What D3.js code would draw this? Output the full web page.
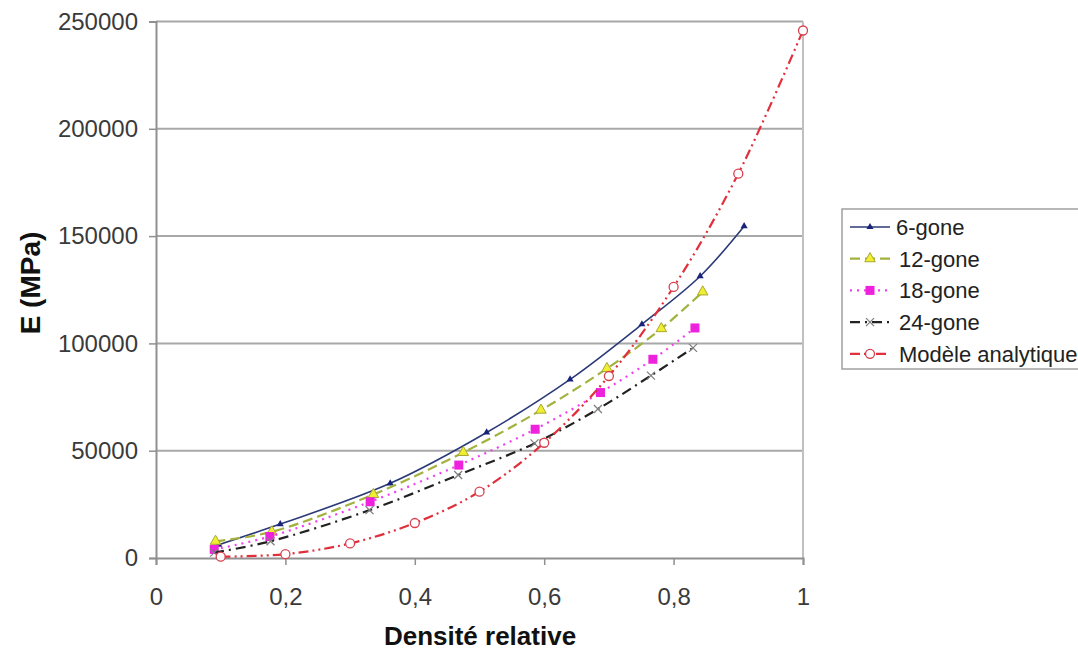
<!DOCTYPE html>
<html><head><meta charset="utf-8">
<script src="https://cdn.jsdelivr.net/npm/d3@7"></script>
<style>body{margin:0;background:#fff;} text{font-family:"Liberation Sans",Arial,sans-serif;}</style>
</head><body><svg id="c" width="1078" height="657"></svg>
<script>
const xTicks = [0, 0.2, 0.4, 0.6, 0.8, 1];
const yTicks = [0, 50000, 100000, 150000, 200000, 250000];
const seriesNames = ["6-gone", "12-gone", "18-gone", "24-gone", "Modèle analytique"];
const x6 = [0.097, 0.192, 0.362, 0.511, 0.640, 0.751, 0.841, 0.909];
const y6 = [6200, 15800, 34800, 58500, 83200, 108900, 131300, 154600];
const x12 = [0.092, 0.179, 0.336, 0.475, 0.595, 0.697, 0.781, 0.845];
const y12 = [7800, 12200, 29600, 49200, 68900, 88300, 106900, 124000];
const x18 = [0.09, 0.176, 0.331, 0.468, 0.586, 0.687, 0.768, 0.833];
const y18 = [4000, 10000, 26200, 43300, 60000, 77100, 92600, 107200];
const x24 = [0.09, 0.177, 0.330, 0.467, 0.585, 0.683, 0.765, 0.830];
const y24 = [2500, 7800, 22300, 38700, 53400, 69400, 85000, 97900];
const xA = [0.1, 0.2, 0.3, 0.4, 0.5, 0.6, 0.7, 0.8, 0.9, 1.0];
const yA = [600, 1800, 6800, 16300, 30900, 53700, 84800, 126300, 179100, 245800];

const svg = d3.select("#c");
const L = 156, R = 803, T = 21.5, B = 558;
const x = d3.scaleLinear().domain([0, 1]).range([L, R]);
const y = d3.scaleLinear().domain([0, 250000]).range([B, T]);
const grid = "#a8a8a8";

svg.append("g").selectAll("line").data(yTicks.slice(1)).join("line")
  .attr("x1", L).attr("x2", R).attr("y1", d => y(d)).attr("y2", d => y(d))
  .attr("stroke", grid).attr("stroke-width", 2);
svg.append("line").attr("x1", R).attr("x2", R).attr("y1", T).attr("y2", B)
  .attr("stroke", "#c0c0c0").attr("stroke-width", 2);

const fmtX = d => d === 0 ? "0" : d === 1 ? "1" : String(d).replace(".", ",");
const xAxis = svg.append("g").attr("transform", `translate(0,${B})`)
  .call(d3.axisBottom(x).tickValues(xTicks).tickSize(7).tickFormat(fmtX));
const yAxis = svg.append("g").attr("transform", `translate(${L},0)`)
  .call(d3.axisLeft(y).tickValues(yTicks).tickSize(7).tickFormat(d3.format("d")));
[xAxis, yAxis].forEach(a => {
  a.select(".domain").attr("stroke", "#909090").attr("stroke-width", 2);
  a.selectAll(".tick line").attr("stroke", "#909090").attr("stroke-width", 1.5);
  a.selectAll("text").attr("fill", "#3a3a3a").style("font-size", "24px");
});
xAxis.selectAll("text").attr("y", 30).attr("dy", "0.71em");
yAxis.selectAll("text").attr("x", -18);

svg.append("text").attr("x", 480).attr("y", 645).attr("text-anchor", "middle")
  .style("font-size", "26px").style("font-weight", "bold").attr("fill", "#111").text("Densité relative");
svg.append("text").attr("transform", "translate(40,283) rotate(-90)").attr("text-anchor", "middle")
  .style("font-size", "28px").style("font-weight", "bold").attr("fill", "#111").text("E (MPa)");

const series = [
  {name: seriesNames[0], xs: x6, ys: y6, color: "#2b3a78", dash: null, w: 1.6, mk: "tri6"},
  {name: seriesNames[1], xs: x12, ys: y12, color: "#a3b23e", dash: "10,5", w: 2.2, mk: "tri12"},
  {name: seriesNames[2], xs: x18, ys: y18, color: "#f040f0", dash: "2,5", w: 2.2, mk: "sq"},
  {name: seriesNames[3], xs: x24, ys: y24, color: "#222", dash: "10,5,2,5", w: 2.2, mk: "x"},
  {name: seriesNames[4], xs: xA, ys: yA, color: "#e0303c", dash: "10,4,2,4,2,4", w: 2.2, mk: "circ"}
];

const line = d3.line().x(d => x(d[0])).y(d => y(d[1])).curve(d3.curveCatmullRom.alpha(0.5));

function marker(g, kind, cx, cy) {
  if (kind === "tri6") {
    g.append("path").attr("d", d3.symbol(d3.symbolTriangle, 22)()).attr("transform", `translate(${cx},${cy})`)
      .attr("fill", "#1a237a");
  } else if (kind === "tri12") {
    g.append("path").attr("d", d3.symbol(d3.symbolTriangle, 48)()).attr("transform", `translate(${cx},${cy})`)
      .attr("fill", "#f0ee30").attr("stroke", "#a8a830").attr("stroke-width", 1);
  } else if (kind === "sq") {
    g.append("rect").attr("x", cx - 4.5).attr("y", cy - 4.5).attr("width", 9).attr("height", 9).attr("fill", "#ee22dd");
  } else if (kind === "x") {
    g.append("path").attr("d", `M${cx-4},${cy-4}L${cx+4},${cy+4}M${cx-4},${cy+4}L${cx+4},${cy-4}`)
      .attr("stroke", "#808080").attr("stroke-width", 1.3);
  } else if (kind === "circ") {
    g.append("circle").attr("cx", cx).attr("cy", cy).attr("r", 4.5)
      .attr("fill", "#fff").attr("stroke", "#d84050").attr("stroke-width", 1.3);
  }
}

series.forEach(s => {
  const pts = s.xs.map((v, i) => [v, s.ys[i]]);
  const g = svg.append("g");
  g.append("path").attr("d", line(pts)).attr("fill", "none").attr("stroke", s.color)
    .attr("stroke-width", s.w).attr("stroke-dasharray", s.dash);
  pts.forEach(p => marker(g, s.mk, x(p[0]), y(p[1])));
});

const lg = svg.append("g");
lg.append("rect").attr("x", 842).attr("y", 209).attr("width", 250).attr("height", 160)
  .attr("fill", "#fff").attr("stroke", "#a0a0a0").attr("stroke-width", 1.5);
series.forEach((s, i) => {
  const cy = 227 + i * 31.7;
  lg.append("line").attr("x1", 850).attr("x2", 890).attr("y1", cy).attr("y2", cy)
    .attr("stroke", s.color).attr("stroke-width", s.w).attr("stroke-dasharray", s.dash);
  marker(lg, s.mk, 870, cy);
  lg.append("text").attr("x", i === 0 ? 896 : 899).attr("y", cy + 8).style("font-size", "22px")
    .attr("fill", "#222").text(s.name);
});
</script></body></html>
